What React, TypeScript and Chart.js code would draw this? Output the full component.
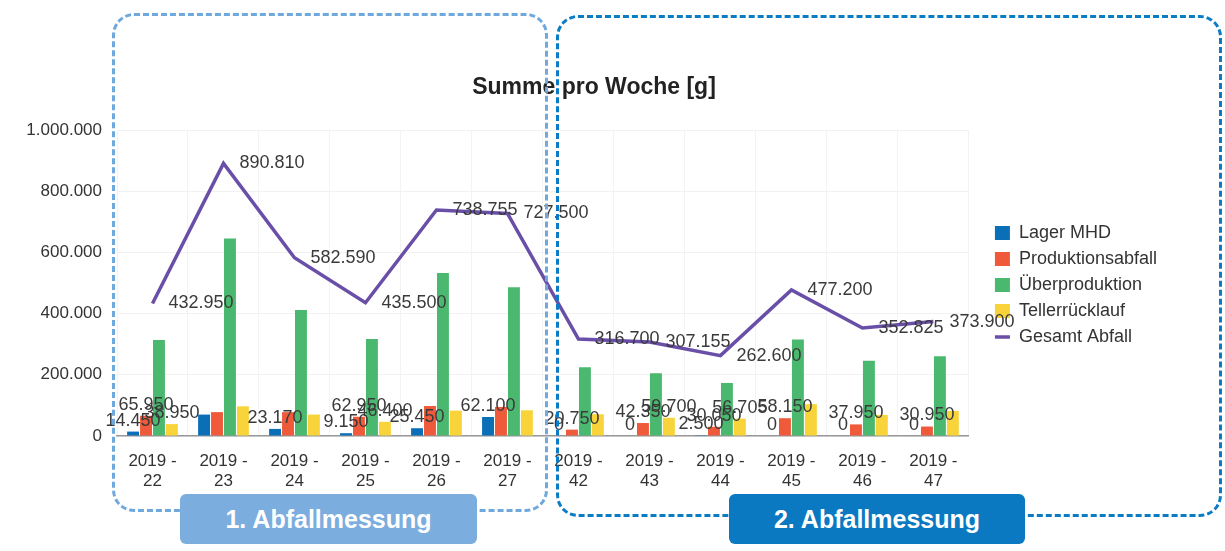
import React, { useEffect, useRef } from 'react';
import { Chart, registerables } from 'chart.js';

Chart.register(...registerables);

// ---- data ----
const year = '2019';
const weeks = ['22', '23', '24', '25', '26', '27', '42', '43', '44', '45', '46', '47'];
const lagerMHD = [14450, 70000, 23170, 9150, 25450, 62100, 0, 0, 2500, 0, 0, 0];
const produktionsabfall = [65950, 78000, 78000, 62950, 98000, 95000, 20750, 42350, 30050, 58150, 37950, 30950];
const ueberproduktion = [313600, 645810, 411420, 317000, 532305, 486400, 224950, 205105, 173345, 315000, 245875, 260950];
const tellerruecklauf = [38950, 97000, 70000, 46400, 83000, 84000, 71000, 59700, 56705, 104050, 69000, 82000];
const gesamtAbfall = [432950, 890810, 582590, 435500, 738755, 727500, 316700, 307155, 262600, 477200, 352825, 373900];
// which bar value labels are visible in the original
const lagerLabelShown = [1, 0, 1, 1, 1, 1, 1, 1, 1, 1, 1, 1];
const produktionLabelShown = [1, 0, 0, 1, 0, 0, 1, 1, 1, 1, 1, 1];
const ueberLabelShown = [0, 0, 0, 0, 0, 0, 0, 0, 0, 0, 0, 0];
const tellerLabelShown = [1, 0, 0, 1, 0, 0, 0, 1, 1, 0, 0, 0];
const yMin = 0;
const yMax = 1000000;
const yStep = 200000;
const chartTitle = 'Summe pro Woche [g]';
const phase1 = '1. Abfallmessung';
const phase2 = '2. Abfallmessung';

const FONT = '"Liberation Sans", Arial, sans-serif';

const fmt = (n: number) => String(Math.round(n)).replace(/\B(?=(\d{3})+(?!\d))/g, '.');

const valueLabels = {
  id: 'valueLabels',
  afterDatasetsDraw(chart: any) {
    const ctx = chart.ctx;
    ctx.save();
    ctx.font = '18px ' + FONT;
    ctx.fillStyle = '#3a3a3a';
    chart.data.datasets.forEach((ds: any, di: number) => {
      const meta = chart.getDatasetMeta(di);
      meta.data.forEach((el: any, i: number) => {
        const v = ds.data[i];
        if (ds.type === 'line') {
          ctx.textAlign = 'left';
          ctx.textBaseline = 'middle';
          ctx.fillText(fmt(v), el.x + 16, el.y);
        } else if (ds.labelShown && ds.labelShown[i]) {
          ctx.textAlign = 'center';
          ctx.textBaseline = 'bottom';
          ctx.fillText(fmt(v), el.x, el.y - 2);
        }
      });
    });
    ctx.restore();
  },
};

export default function App() {
  const canvasRef = useRef<HTMLCanvasElement | null>(null);

  useEffect(() => {
    if (!canvasRef.current) return;
    const labels = weeks.map((w) => [year + ' -', w]);
    const barCommon = {
      type: 'bar' as const,
      categoryPercentage: 0.73,
      barPercentage: 0.92,
      pointStyle: 'rect',
      order: 1,
    };
    const chart = new Chart(canvasRef.current, {
      type: 'bar',
      data: {
        labels,
        datasets: [
          { ...barCommon, label: 'Lager MHD', data: lagerMHD, backgroundColor: '#0b6fb8', labelShown: lagerLabelShown } as any,
          { ...barCommon, label: 'Produktionsabfall', data: produktionsabfall, backgroundColor: '#ee5a3a', labelShown: produktionLabelShown } as any,
          { ...barCommon, label: 'Überproduktion', data: ueberproduktion, backgroundColor: '#4bb86f', labelShown: ueberLabelShown } as any,
          { ...barCommon, label: 'Tellerrücklauf', data: tellerruecklauf, backgroundColor: '#f8d43a', labelShown: tellerLabelShown } as any,
          {
            type: 'line',
            label: 'Gesamt Abfall',
            data: gesamtAbfall,
            borderColor: '#6a4fa8',
            backgroundColor: '#6a4fa8',
            borderWidth: 3.5,
            pointRadius: 0,
            pointHoverRadius: 0,
            pointStyle: 'line',
            tension: 0,
            fill: false,
            order: 0,
          } as any,
        ],
      },
      options: {
        responsive: false,
        animation: false,
        layout: { padding: { left: 21, right: 58, top: 74, bottom: 55 } },
        plugins: {
          title: {
            display: true,
            text: chartTitle,
            color: '#222',
            font: { family: FONT, size: 23, weight: 'bold' },
            padding: { top: 0, bottom: 28.4 },
          },
          legend: {
            position: 'right',
            align: 'center',
            labels: {
              usePointStyle: true,
              pointStyleWidth: 15,
              boxHeight: 14,
              padding: 8,
              color: '#333',
              font: { family: FONT, size: 18 },
              sort: (a: any, b: any) => a.datasetIndex - b.datasetIndex,
            },
          },
          tooltip: { enabled: false },
        },
        scales: {
          x: {
            offset: true,
            grid: { color: '#f3f3f3', drawTicks: false },
            border: { color: '#999', width: 1.5 },
            ticks: {
              color: '#333',
              font: { family: FONT, size: 17 },
              padding: 15,
              maxRotation: 0,
              autoSkip: false,
            },
            afterFit: (s: any) => {
              s.height = 60;
            },
          },
          y: {
            min: yMin,
            max: yMax,
            grid: { color: '#f2f2f2', drawTicks: false },
            border: { display: false },
            ticks: {
              stepSize: yStep,
              color: '#333',
              font: { family: FONT, size: 17 },
              padding: 15,
              callback: (v: any) => fmt(Number(v)),
            },
            afterFit: (s: any) => {
              s.width = 96;
            },
          },
          yGap: {
            type: 'linear',
            position: 'right',
            display: true,
            grid: { display: false },
            border: { display: false },
            ticks: { display: false },
            afterFit: (s: any) => {
              s.width = 18;
            },
          },
        },
      } as any,
      plugins: [valueLabels],
    });
    return () => chart.destroy();
  }, []);

  const labelBox = (bg: string): React.CSSProperties => ({
    position: 'absolute',
    top: 494,
    height: 50,
    background: bg,
    borderRadius: 6,
    color: '#fff',
    fontFamily: FONT,
    fontWeight: 'bold',
    fontSize: 25,
    display: 'flex',
    alignItems: 'center',
    justifyContent: 'center',
  });

  return (
    <div style={{ position: 'absolute', left: 0, top: 0, width: 1225, height: 551, background: '#fff', overflow: 'hidden' }}>
      <canvas ref={canvasRef} width={1225} height={551} style={{ position: 'absolute', left: 0, top: 0 }} />
      <div
        style={{
          position: 'absolute',
          left: 112,
          top: 13,
          width: 436,
          height: 499,
          boxSizing: 'border-box',
          border: '3px dashed #6fa8dc',
          borderRadius: 22,
          pointerEvents: 'none',
        }}
      />
      <div
        style={{
          position: 'absolute',
          left: 556,
          top: 15,
          width: 666,
          height: 502,
          boxSizing: 'border-box',
          border: '3px dashed #0a7cc4',
          borderRadius: 22,
          pointerEvents: 'none',
        }}
      />
      <div style={{ ...labelBox('#7badde'), left: 180, width: 297 }}>{phase1}</div>
      <div style={{ ...labelBox('#0a79c1'), left: 729, width: 296 }}>{phase2}</div>
    </div>
  );
}
